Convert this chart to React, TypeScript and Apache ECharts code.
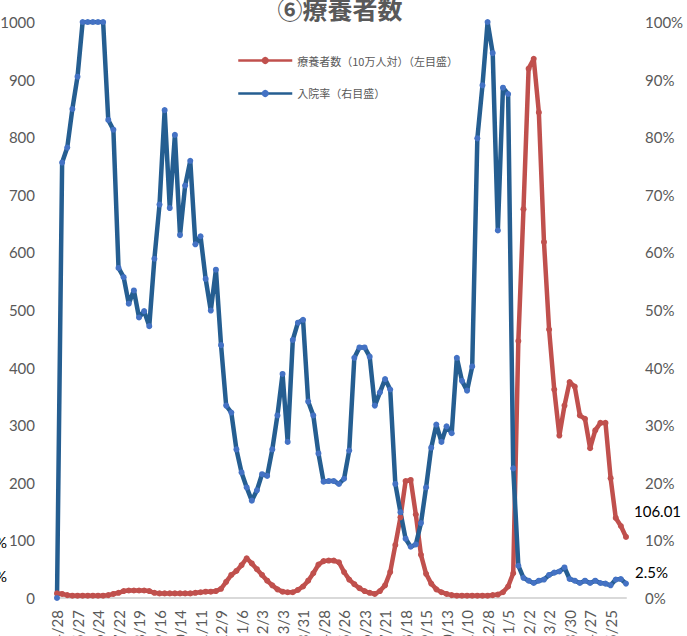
import React, { useEffect, useRef } from "react";
import * as echarts from "echarts";

const categories = [
  "4/28", "5/6", "5/13", "5/20", "5/27", "6/3", "6/10", "6/17", "6/24", "7/1",
  "7/8", "7/15", "7/22", "7/29", "8/5", "8/12", "8/19", "8/26", "9/2", "9/9",
  "9/16", "9/23", "9/30", "10/7", "10/14", "10/21", "10/28", "11/4", "11/11", "11/18",
  "11/25", "12/2", "12/9", "12/16", "12/23", "12/30", "1/6", "1/13", "1/20", "1/27",
  "2/3", "2/10", "2/17", "2/24", "3/3", "3/10", "3/17", "3/24", "3/31", "4/7",
  "4/14", "4/21", "4/28", "5/5", "5/12", "5/19", "5/26", "6/2", "6/9", "6/16",
  "6/23", "6/30", "7/7", "7/14", "7/21", "7/28", "8/4", "8/11", "8/18", "8/25",
  "9/1", "9/8", "9/15", "9/22", "9/29", "10/6", "10/13", "10/20", "10/27", "11/3",
  "11/10", "11/17", "11/24", "12/1", "12/8", "12/15", "12/22", "12/29", "1/5", "1/12",
  "1/19", "1/26", "2/2", "2/9", "2/16", "2/23", "3/2", "3/9", "3/16", "3/23",
  "3/30", "4/6", "4/13", "4/20", "4/27", "5/4", "5/11", "5/18", "5/25", "6/1",
  "6/8", "6/15",
];

// 療養者数（10万人対）— left axis
const ryoyoshaValues = [
  8, 7, 5, 4, 4, 4, 4, 4, 4, 4,
  5, 7, 9, 12, 13, 13, 13, 13, 12, 9,
  8, 8, 8, 8, 8, 8, 8, 9, 10, 11,
  11, 12, 16, 28, 40, 47, 57, 69, 60, 50,
  40, 30, 22, 15, 11, 10, 10, 14, 20, 30,
  43, 58, 64, 65, 65, 62, 45, 32, 24, 17,
  12, 9, 7, 12, 22, 45, 92, 140, 203, 205,
  145, 75, 42, 25, 15, 10, 7, 5, 4, 4,
  4, 4, 4, 4, 4, 5, 6, 10, 20, 43,
  446, 675, 919, 936, 843, 618, 466, 362, 282, 334,
  375, 367, 317, 311, 260, 291, 304, 304, 208, 139,
  125, 106.01,
];

// 入院率（%）— right axis
const nyuinRate = [
  0, 75.6, 78.2, 84.9, 90.5, 100, 100, 100, 100, 100,
  83.0, 81.3, 57.3, 55.7, 51.1, 53.4, 48.7, 49.8, 47.2, 58.9,
  68.3, 84.7, 67.7, 80.4, 63.0, 71.6, 75.9, 61.4, 62.8, 55.4,
  49.9, 57.0, 43.9, 33.4, 32.2, 25.8, 21.8, 19.2, 16.9, 18.7,
  21.5, 21.2, 25.8, 31.7, 38.9, 27.1, 44.8, 47.8, 48.3, 34.1,
  31.7, 25.1, 20.2, 20.3, 20.3, 19.8, 20.7, 25.6, 41.7, 43.5,
  43.5, 41.9, 33.4, 35.7, 38.0, 36.2, 19.8, 14.9, 10.3, 8.9,
  9.3, 13.0, 19.2, 26.1, 30.1, 27.1, 29.8, 28.6, 41.7, 37.7,
  36.0, 40.2, 79.8, 89.0, 100, 94.6, 63.8, 88.6, 87.5, 22.5,
  5.6, 3.5, 3.0, 2.6, 3.0, 3.2, 4.0, 4.4, 4.6, 5.3,
  3.3, 3.0, 2.6, 3.0, 2.6, 3.0, 2.6, 2.5, 2.2, 3.2,
  3.3, 2.5,
];

const seriesNames = ["療養者数（10万人対）（左目盛）", "入院率（右目盛）"];
const titleText = "⑥療養者数";

const LAT = "Lato, 'Noto Sans', sans-serif";
const CJK = "'Noto Sans CJK JP', sans-serif";

export default function App() {
  const ref = useRef<HTMLDivElement>(null);
  useEffect(() => {
    if (!ref.current) return;
    const chart = echarts.init(ref.current, null, { renderer: "svg" });
    chart.setOption({
      animation: false,
      backgroundColor: "#ffffff",
      textStyle: { fontFamily: LAT },
      graphic: [
        {
          type: "text",
          x: 340,
          y: 8,
          style: {
            text: titleText,
            fontSize: 25,
            fontWeight: "bold",
            fill: "#595959",
            fontFamily: CJK,
            textAlign: "center",
            textVerticalAlign: "middle",
          },
        },
        {
          type: "text",
          x: 634,
          y: 511,
          style: { text: "106.01", fontSize: 15, fill: "#000000", fontFamily: LAT, textVerticalAlign: "middle" },
        },
        {
          type: "text",
          x: 635,
          y: 572,
          style: { text: "2.5%", fontSize: 15, fill: "#000000", fontFamily: LAT, textVerticalAlign: "middle" },
        },
        {
          type: "text",
          x: 7,
          y: 542,
          style: { text: "10%", fontSize: 15, fill: "#000000", fontFamily: LAT, textAlign: "right", textVerticalAlign: "middle" },
        },
        {
          type: "text",
          x: 7,
          y: 576,
          style: { text: "2.5%", fontSize: 15, fill: "#000000", fontFamily: LAT, textAlign: "right", textVerticalAlign: "middle" },
        },
      ],
      legend: {
        orient: "vertical",
        left: 237,
        top: 55,
        padding: 0,
        itemWidth: 54,
        itemHeight: 9,
        itemGap: 22,
        lineStyle: { width: 2.5 },
        textStyle: { fontFamily: CJK, fontSize: 11, color: "#595959" },
        data: seriesNames,
      },
      grid: { left: 57, right: 61, top: 22, bottom: 38, containLabel: false, outerBoundsMode: "none" },
      xAxis: {
        type: "category",
        data: categories,
        boundaryGap: false,
        axisLine: { lineStyle: { color: "#D9D9D9", width: 2 } },
        axisTick: { show: false },
        splitLine: { show: false },
        axisLabel: { interval: 3, rotate: 90, color: "#595959", fontSize: 15, margin: 12, fontFamily: LAT },
      },
      yAxis: [
        {
          type: "value",
          min: 0,
          max: 1000,
          interval: 100,
          axisLine: { show: false },
          axisTick: { show: false },
          splitLine: { show: false },
          axisLabel: {
            color: "#595959",
            fontSize: 15,
            margin: 22,
            fontFamily: LAT,
            formatter: (v: number) => String(v),
          },
        },
        {
          type: "value",
          min: 0,
          max: 100,
          interval: 10,
          position: "right",
          axisLine: { show: false },
          axisTick: { show: false },
          splitLine: { show: false },
          axisLabel: { color: "#595959", fontSize: 15, margin: 19, formatter: "{value}%", fontFamily: LAT },
        },
      ],
      series: [
        {
          name: seriesNames[0],
          type: "line",
          yAxisIndex: 0,
          data: ryoyoshaValues,
          symbol: "circle",
          symbolSize: 6,
          showAllSymbol: true,
          lineStyle: { color: "#C0504D", width: 4.5 },
          itemStyle: { color: "#C0504D" },
        },
        {
          name: seriesNames[1],
          type: "line",
          yAxisIndex: 1,
          data: nyuinRate,
          symbol: "circle",
          symbolSize: 6,
          showAllSymbol: true,
          lineStyle: { color: "#255E91", width: 4.5 },
          itemStyle: { color: "#4472C4" },
        },
      ],
    });
    return () => chart.dispose();
  }, []);
  return (
    <div
      ref={ref}
      style={{ position: "absolute", left: 0, top: 0, width: 687, height: 636 }}
    />
  );
}
